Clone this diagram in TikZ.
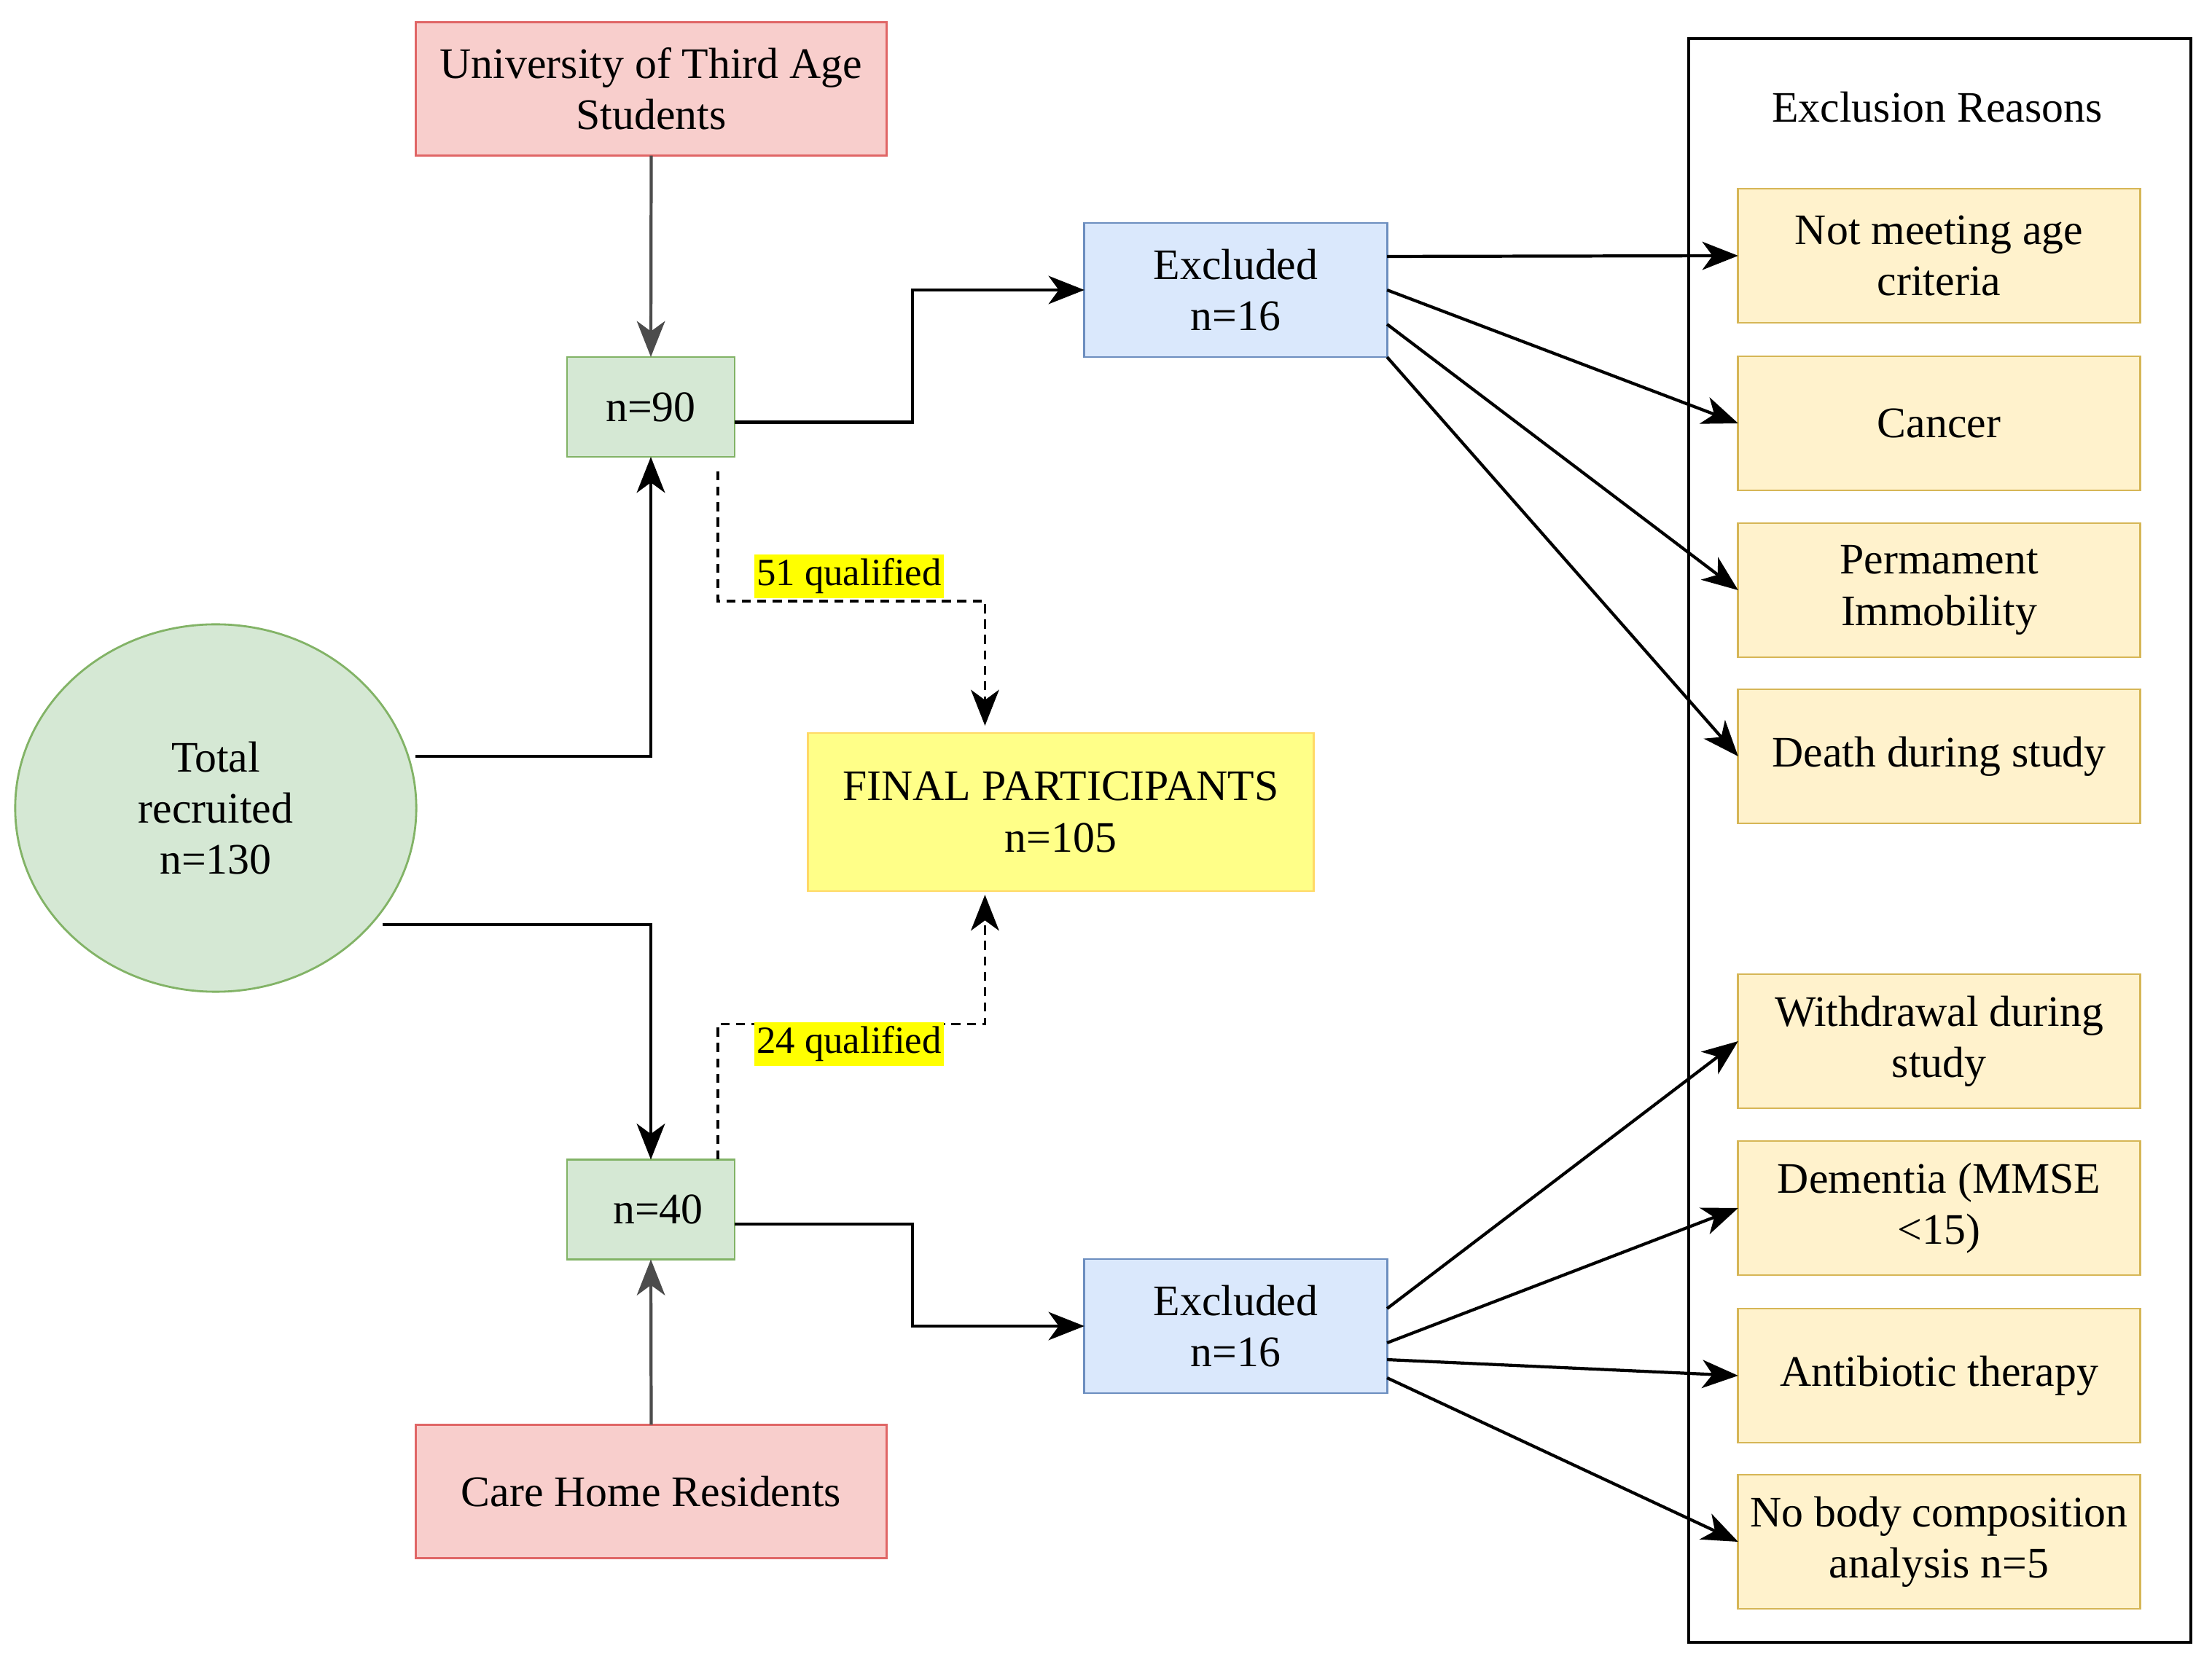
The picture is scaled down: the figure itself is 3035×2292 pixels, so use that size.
\documentclass[tikz,border=0pt]{standalone}
\usepackage{fontspec}
\setmainfont{Liberation Serif}
\usetikzlibrary{shapes.geometric,arrows.meta,calc}
\definecolor{redfill}{HTML}{F8CECC}
\definecolor{redline}{HTML}{E06666}
\definecolor{greenfill}{HTML}{D5E8D4}
\definecolor{greenline}{HTML}{82B366}
\definecolor{bluefill}{HTML}{DAE8FC}
\definecolor{blueline}{HTML}{6C8EBF}
\definecolor{reasonfill}{HTML}{FFF2CC}
\definecolor{reasonline}{HTML}{D6B656}
\definecolor{finalfill}{HTML}{FFFF88}
\definecolor{finalline}{HTML}{FFD966}
\definecolor{hilite}{HTML}{FFFF00}
\newcommand{\fsmain}{\fontsize{17}{20}\selectfont}
\newcommand{\fslab}{\fontsize{15}{17}\selectfont}
\begin{document}
\begin{tikzpicture}[x=0.01cm,y=-0.01cm,
  every node/.style={outer sep=0pt},
  basebox/.style={draw, line width=0.8pt, align=center, inner sep=2pt, font=\fsmain, text=black},
  rbox/.style={basebox, fill=redfill, draw=redline, minimum width=6.45cm, minimum height=1.83cm},
  gbox/.style={basebox, fill=greenfill, draw=greenline, minimum width=2.30cm, minimum height=1.37cm},
  bbox/.style={basebox, fill=bluefill, draw=blueline, minimum width=4.15cm, minimum height=1.84cm},
  ybox/.style={basebox, fill=reasonfill, draw=reasonline, minimum width=5.51cm, minimum height=1.84cm},
  fbox/.style={basebox, fill=finalfill, draw=finalline, minimum width=6.93cm, minimum height=2.17cm},
  lab/.style={fill=hilite, inner xsep=1pt, inner ysep=0pt, minimum height=0.6cm, font=\fslab, text=black},
  tip/.style={-{Stealth[length=14pt,width=11pt,inset=4pt]}},
  conn/.style={tip, line width=1.2pt, draw=black},
  gconn/.style={tip, line width=1.2pt, draw=black!70},
  dconn/.style={tip, line width=0.9pt, dash pattern=on 3.5pt off 2.5pt}
]
\useasboundingbox (0,0) rectangle (3035,2292);

% container
\node[draw, line width=1.1pt, minimum width=6.89cm, minimum height=21.99cm] (cont) at (2661.5,1153.5) {};
\node[font=\fsmain, text=black] (ttl) at (2658,147) {Exclusion Reasons};

% main nodes
\node[rbox] (uni) at (893.5,122) {University of Third Age\\Students};
\node[gbox] (n90) at (893,558.5) {n=90};
\node[bbox] (ex1) at (1695.5,398) {Excluded\\n=16};
\node[ellipse, draw=greenline, fill=greenfill, line width=0.8pt, minimum width=5.5cm, minimum height=5.04cm, align=center, font=\fsmain, text=black] (circ) at (296,1109) {Total\\recruited\\n=130};
\node[fbox] (final) at (1455.5,1114.5) {FINAL PARTICIPANTS\\n=105};
\node[gbox] (n40) at (893,1660) {\hspace*{0.2cm}n=40};
\node[bbox] (ex2) at (1695.5,1820) {Excluded\\n=16};
\node[rbox] (care) at (893.5,2047) {Care Home Residents};

% reasons
\node[ybox] (r1) at (2660.5,351) {Not meeting age\\criteria};
\node[ybox] (r2) at (2660.5,581) {Cancer};
\node[ybox] (r3) at (2660.5,810) {Permament\\Immobility};
\node[ybox] (r4) at (2660.5,1038) {Death during study};
\node[ybox] (r5) at (2660.5,1429) {Withdrawal during\\study};
\node[ybox] (r6) at (2660.5,1658) {Dementia (MMSE\\<15)};
\node[ybox] (r7) at (2660.5,1888) {Antibiotic therapy};
\node[ybox] (r8) at (2660.5,2116) {No body composition\\analysis n=5};

% connectors
\draw[gconn] (uni.south) -- (n90.north);
\draw[gconn] (care.north) -- (n40.south);
\draw[conn] ([xshift=0.1cm]circ.15) -| (n90.south);
\draw[conn] ([xshift=0.16cm]circ.-37) -| (n40.north);
\draw[conn] ([yshift=-0.21cm]n90.east) -- ++(244,0) |- (ex1.west);
\draw[conn] ([yshift=-0.2cm]n40.east) -- ++(244,0) |- (ex2.west);

\draw[conn] ([yshift=0.46cm]ex1.east) -- (r1.west);
\draw[conn] (ex1.east) -- (r2.west);
\draw[conn] ([yshift=-0.47cm]ex1.east) -- (r3.west);
\draw[conn] (ex1.south east) -- (r4.west);

\draw[conn] ([yshift=0.24cm]ex2.east) -- (r5.west);
\draw[conn] ([yshift=-0.23cm]ex2.east) -- (r6.west);
\draw[conn] ([yshift=-0.46cm]ex2.east) -- (r7.west);
\draw[conn] ([yshift=-0.71cm]ex2.east) -- (r8.west);

% dashed qualified paths
\draw[dconn] ([xshift=0.92cm,yshift=-0.2cm]n90.south) -- ++(0,178) -| ([xshift=-1.04cm,yshift=0.1cm]final.north);
\draw[dconn] ([xshift=0.92cm]n40.north) -- ++(0,-186) -| ([xshift=-1.04cm,yshift=-0.05cm]final.south);
\node[lab] (q1) at (1165,791) {51 qualified};
\node[lab] (q2) at (1165,1433) {24 qualified};
\end{tikzpicture}
\end{document}
